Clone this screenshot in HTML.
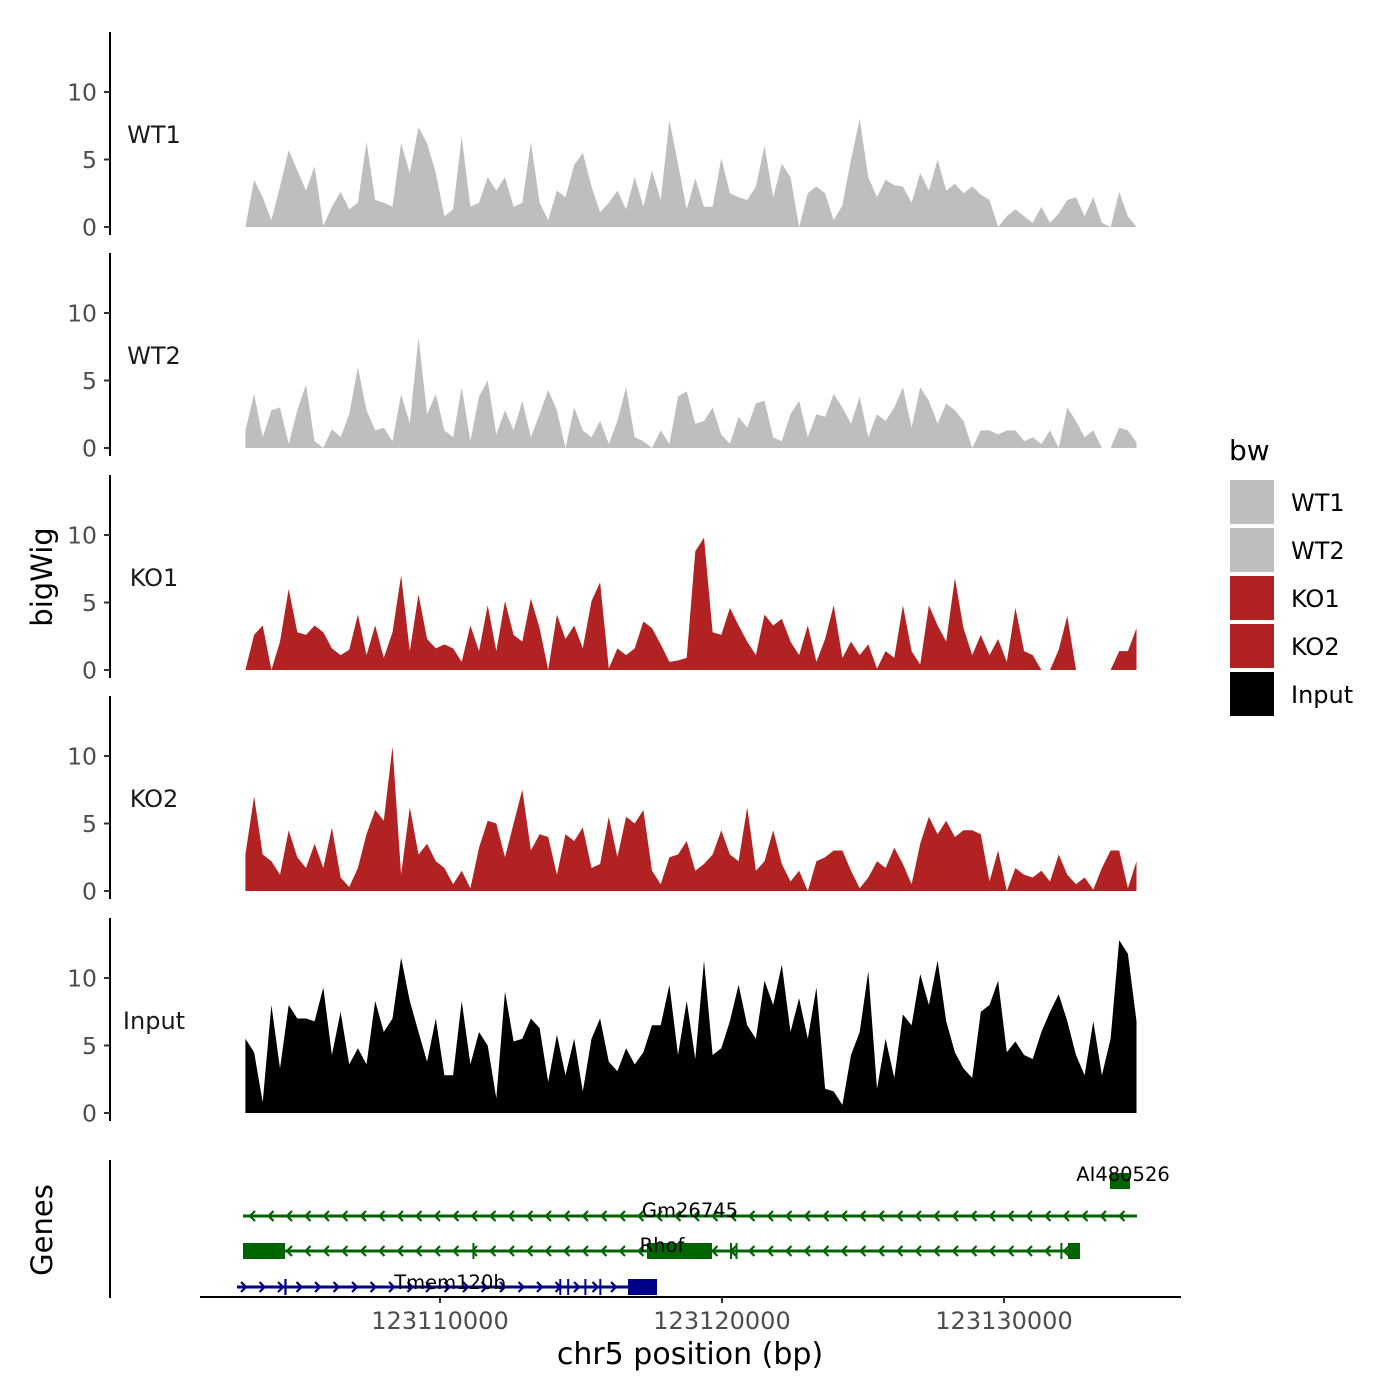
<!DOCTYPE html>
<html><head><meta charset="utf-8"><style>
html,body{margin:0;padding:0;background:#fff}
svg{display:block;font-family:"DejaVu Sans","Liberation Sans",sans-serif}
</style></head><body>
<svg id="chart" width="1400" height="1400" viewBox="0 0 1400 1400" xmlns="http://www.w3.org/2000/svg">
<rect width="1400" height="1400" fill="#fff"/>
<g id="tracks"></g>
<g id="genes"></g>
<text x="52" y="577" font-size="29" text-anchor="middle" transform="rotate(-90 52 577)">bigWig</text>
<text x="52" y="1230" font-size="29" text-anchor="middle" transform="rotate(-90 52 1230)">Genes</text>
<line x1="110" y1="1160" x2="110" y2="1298" stroke="#000" stroke-width="2"/>
<line x1="200" y1="1297" x2="1181" y2="1297" stroke="#000" stroke-width="2"/>
<g id="xaxis"></g>
<text x="690" y="1364" font-size="30" text-anchor="middle">chr5 position (bp)</text>
<g>
<text x="1229" y="460" font-size="28">bw</text>
<rect x="1230" y="480" width="44" height="44" fill="#bebebe"/>
<text x="1291" y="511" font-size="24">WT1</text>
<rect x="1230" y="528" width="44" height="44" fill="#bebebe"/>
<text x="1291" y="559" font-size="24">WT2</text>
<rect x="1230" y="576" width="44" height="44" fill="#b22222"/>
<text x="1291" y="607" font-size="24">KO1</text>
<rect x="1230" y="624" width="44" height="44" fill="#b22222"/>
<text x="1291" y="655" font-size="24">KO2</text>
<rect x="1230" y="672" width="44" height="44" fill="#000"/>
<text x="1291" y="703" font-size="24">Input</text>
</g>
</svg>
<script>
const regionStart = 123103100;
const regionEnd = 123134700;
const trackNames = ["WT1","WT2","KO1","KO2","Input"];
const trackColors = ["#bebebe","#bebebe","#b22222","#b22222","#000000"];
const yTicks = [0,5,10];
const xTicks = [123110000,123120000,123130000];
const wt1 = [0,3.5,2.2,0.5,3.0,5.7,4.2,2.7,4.5,0.1,1.5,2.6,1.3,
1.8,6.3,2.0,1.8,1.5,6.2,4.0,7.4,6.2,4.0,0.8,1.3,6.7,
1.5,1.8,3.7,2.7,3.7,1.5,1.8,6.3,1.8,0.5,2.7,2.2,4.6,
5.5,3.0,1.1,1.8,2.7,1.3,3.7,1.5,4.2,2.0,7.9,4.7,1.3,
3.6,1.5,1.5,5.1,2.5,2.2,2.0,3.0,6.0,2.2,4.7,3.7,0,
2.5,3.0,2.5,0.5,1.6,5.0,8.0,3.7,2.2,3.5,3.1,3.0,1.8,
4.0,2.7,5.0,2.7,3.2,2.5,3.0,2.4,2.0,0,0.8,1.3,0.8,
0.3,1.5,0.3,1.0,2.0,2.2,0.8,2.2,0.3,0,2.6,0.8,0];
const wt2 = [1.3,4.0,0.8,2.8,3.0,0.3,2.8,4.7,0.5,0,1.4,0.8,2.5,
6.0,2.8,1.3,1.5,0.5,4.0,1.8,8.2,2.5,4.0,1.3,0.8,4.5,
0.5,3.8,5.0,1.0,2.8,1.3,3.5,0.8,2.5,4.3,2.8,0,3.0,
1.3,0.8,2.0,0.3,2.0,4.5,0.8,0.5,0,1.3,0.3,3.8,4.2,
1.8,2.0,3.0,1.0,0.3,2.3,1.5,3.3,3.5,0.8,0.5,2.5,3.5,
0.8,2.5,2.3,4.0,3.0,1.8,3.8,0.8,2.5,2.0,3.0,4.5,1.5,
4.5,3.5,1.8,3.3,2.8,2.0,0,1.3,1.3,1.0,1.3,1.3,0.5,
0.8,0.3,1.3,0,3.0,2.0,0.8,1.3,0,0,1.5,1.3,0.4];
const ko1 = [0,2.6,3.3,0,2.1,6.0,2.8,2.6,3.3,2.8,1.6,1.1,1.5,
4.1,1.1,3.3,0.9,2.8,7.0,1.4,5.6,2.3,1.6,1.9,1.6,0.6,
3.3,1.4,4.8,1.4,5.1,2.6,2.1,5.3,3.1,0,4.1,2.3,3.3,
1.6,5.1,6.5,0.1,1.6,1.1,1.6,3.6,3.1,1.9,0.6,0.7,0.9,
8.8,9.8,2.8,2.6,4.6,3.3,2.1,1.1,4.1,3.3,3.8,2.1,1.1,
3.3,0.6,2.3,4.8,0.9,2.1,1.1,1.9,0.1,1.4,0.9,4.8,1.4,
0.4,4.8,3.3,2.1,6.8,3.1,1.1,2.6,1.1,2.3,0.6,4.6,1.4,
1.1,0,0,1.5,4.0,0,0,0,0,0,1.4,1.4,3.1];
const ko2 = [2.7,7.0,2.7,2.2,1.2,4.5,2.5,1.7,3.5,1.7,4.7,1.0,0.3,
1.7,4.2,6.0,5.2,10.7,1.2,6.2,2.7,3.5,2.2,1.7,0.5,1.5,
0.2,3.2,5.2,5.0,2.5,5.0,7.5,3.0,4.2,4.0,1.2,4.2,3.7,
4.7,1.7,2.0,5.5,2.5,5.5,5.0,6.0,1.5,0.5,2.5,2.7,3.7,
1.5,2.0,2.7,4.5,2.7,2.2,6.2,1.5,2.2,4.5,2.0,0.7,1.5,
0,2.2,2.5,3.0,3.0,1.5,0.2,1.0,2.2,1.7,3.2,2.0,0.5,
3.5,5.5,4.2,5.2,4.0,4.5,4.5,4.2,0.7,3.0,0,1.7,1.2,
1.0,1.5,0.7,2.7,1.2,0.5,1.0,0.1,1.7,3.0,3.0,0.2,2.2];
const input = [5.5,4.5,0.8,8.0,3.3,8.0,7.0,7.0,6.8,9.3,4.3,7.5,3.6,
4.8,3.6,8.3,6.0,7.0,11.5,8.3,6.0,3.8,7.0,2.8,2.8,8.3,
3.6,6.0,5.0,1.1,9.0,5.3,5.5,7.0,6.3,2.3,5.8,2.8,5.5,
1.6,5.5,7.0,3.8,3.1,4.8,3.6,4.5,6.5,6.5,9.5,4.3,8.3,
4.0,11.3,4.3,4.8,6.8,9.5,6.5,5.5,9.8,8.0,11.0,6.0,8.5,
5.5,9.3,1.8,1.6,0.6,4.3,6.0,10.5,1.8,5.5,2.6,7.3,6.5,
10.3,8.0,11.3,6.8,4.5,3.3,2.6,7.5,8.0,9.8,4.5,5.3,4.3,
4.0,6.0,7.5,8.8,6.8,4.3,2.8,6.8,2.8,5.5,12.8,11.8,6.8];
const trackValues = [wt1,wt2,ko1,ko2,input];
const geneNames = ["AI480526","Gm26745","Rhof","Tmem120b"];
const geneStrands = [-1,-1,-1,1];
const geneStarts = [123133758,123103014,123103014,123102802];
const geneEnds = [123134467,123134716,123132695,123117695];
const geneExons = [
 [[123133758,123134467]],
 [],
 [[123103014,123104504],[123111150,123111220],[123117340,123119645],[123120283,123120330],[123120480,123120532],[123132000,123132060],[123132269,123132695]],
 [[123104480,123104560],[123114230,123114280],[123114510,123114560],[123115120,123115170],[123115650,123115700],[123116667,123117695]]
];
const geneColors = ["#006400","#006400","#006400","#00008b"];

const NS="http://www.w3.org/2000/svg";
function mk(tag, attrs, parent){const e=document.createElementNS(NS,tag);for(const k in attrs)e.setAttribute(k,attrs[k]);parent.appendChild(e);return e;}
function gx(bp){return 440+(bp-123110000)*282/10000;}
const zeroYs=[227,448,670,891,1113];
const pxPerUnit=13.5;
function yScale(t,v){return zeroYs[t]-v*pxPerUnit;}

const tracks=document.getElementById('tracks');
trackValues.forEach((vals,t)=>{
  const g=mk('g',{},tracks);
  
  
  const n=vals.length;
  let d='M'+gx(regionStart).toFixed(1)+','+zeroYs[t];
  vals.forEach((v,i)=>{const bp=regionStart+i*(regionEnd-regionStart)/(n-1);d+=' L'+gx(bp).toFixed(1)+','+yScale(t,v).toFixed(1);});
  d+=' L'+gx(regionEnd).toFixed(1)+','+zeroYs[t]+' Z';
  const p=mk('path',{d:d,fill:trackColors[t]},g);
  
  
  const ax=mk('line',{x1:110,y1:zeroYs[t]-195,x2:110,y2:zeroYs[t]+8,stroke:'#000','stroke-width':2},g);
  
  
  yTicks.forEach(v=>{
    const y=yScale(t,v);
    const tk=mk('line',{x1:104,y1:y,x2:110,y2:y,stroke:'#333','stroke-width':2},g);
    
    
    const tl=mk('text',{x:97,y:y+8.5,'font-size':23.5,'text-anchor':'end',fill:'#4d4d4d'},g);
    tl.textContent=v;
    
    
  });
  const lb=mk('text',{x:154,y:zeroYs[t]-84,'font-size':24,'text-anchor':'middle',fill:'#1a1a1a'},g);
  lb.textContent=trackNames[t];
  
  
});

const xa=document.getElementById('xaxis');
xTicks.forEach(bp=>{
  const x=gx(bp);
  const tk=mk('line',{x1:x,y1:1297,x2:x,y2:1303,stroke:'#333','stroke-width':2},xa);
  
  
  const tl=mk('text',{x:x,y:1329,'font-size':24,'text-anchor':'middle',fill:'#4d4d4d'},xa);
  tl.textContent=bp;
  
  
});

const gg=document.getElementById('genes');
const rowY=[1181,1216,1251,1287];
const labelPos=[[1123,1181],[690,1217],[662,1252],[450,1289]];
geneNames.forEach((name,i)=>{
  const g=mk('g',{},gg);
  
  
  const c=geneColors[i], y=rowY[i];
  const x1=gx(geneStarts[i]), x2=gx(geneEnds[i]);
  const ln=mk('line',{x1:x1,y1:y,x2:x2,y2:y,stroke:c,'stroke-width':3},g);
  
  
  let arrows='';
  for(let x=x1+8;x<x2-4;x+=18.5){
    if(geneStrands[i]<0) arrows+='M'+(x+4)+','+(y-5)+' L'+(x-1)+','+y+' L'+(x+4)+','+(y+5)+' ';
    else arrows+='M'+(x-4)+','+(y-5)+' L'+(x+1)+','+y+' L'+(x-4)+','+(y+5)+' ';
  }
  const ar=mk('path',{d:arrows,stroke:c,'stroke-width':2.2,fill:'none'},g);
  
  
  geneExons[i].forEach(ex=>{
    const ex1=gx(ex[0]), ex2=gx(ex[1]);
    const w=Math.max(2,ex2-ex1);
    const r=mk('rect',{x:ex1,y:y-8,width:w,height:16,fill:c},g);
    
    
  });
  const tl=mk('text',{x:labelPos[i][0],y:labelPos[i][1],'font-size':19.5,'text-anchor':'middle',fill:'#000'},g);
  tl.textContent=name;
  
  
});
</script>
</body></html>
